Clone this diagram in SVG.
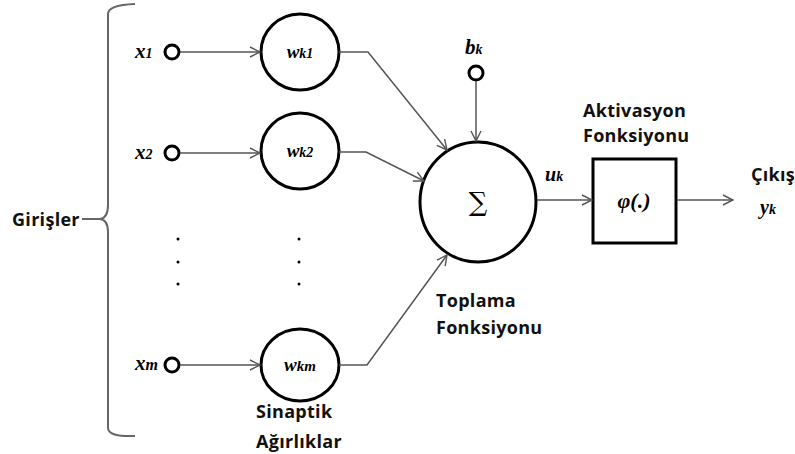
<svg xmlns="http://www.w3.org/2000/svg" width="795" height="454" viewBox="0 0 795 454">
  <defs>
    <marker id="arr" viewBox="0 0 12 12" refX="11" refY="6" markerWidth="12" markerHeight="12" markerUnits="userSpaceOnUse" orient="auto">
      <path d="M1,1 L11,6 L1,11" fill="none" stroke="#555" stroke-width="1.4"/>
    </marker>
  </defs>
  <style>
    .bg { fill: #ffffff; }
    .node { fill: #ffffff; stroke: #000; stroke-width: 3; }
    .port { fill: #ffffff; stroke: #000; stroke-width: 3; }
    .wire { fill: none; stroke: #555; stroke-width: 1.5; marker-end: url(#arr); }
    .brace { fill: none; stroke: #666; stroke-width: 2; }
    .math { font-family: "Liberation Serif", "DejaVu Serif", serif; font-style: italic; font-weight: bold; fill: #000; }
    .lbl { font-family: "Open Sans", "Noto Sans", sans-serif; font-weight: bold; font-size: 18px; letter-spacing: 0.3px; fill: #111; }
    .dot { fill: #000; }
  </style>
  <rect class="bg" x="0" y="0" width="795" height="454"/>

  <!-- input brace -->
  <g id="inputs-brace">
    <path class="brace" d="M135,4 Q108,5 108,14 L108,205 Q108,218 100,219 L82,219 M100,219 Q108,220 108,232 L108,428 Q108,437 135,436"/>
    <text class="lbl" x="12" y="226">Girişler</text>
  </g>

  <!-- input ports -->
  <g id="x1">
    <circle class="port" cx="172" cy="52" r="7"/>
    <text class="math" x="135" y="58" font-size="21">x<tspan font-size="14">1</tspan></text>
  </g>
  <g id="x2">
    <circle class="port" cx="172" cy="153" r="7"/>
    <text class="math" x="135" y="159" font-size="21">x<tspan font-size="14">2</tspan></text>
  </g>
  <g id="xm">
    <circle class="port" cx="172" cy="365" r="7"/>
    <text class="math" x="135" y="370" font-size="21">x<tspan font-size="16">m</tspan></text>
  </g>
  <g id="input-dots">
    <circle class="dot" cx="178" cy="239" r="1.5"/>
    <circle class="dot" cx="178" cy="262" r="1.5"/>
    <circle class="dot" cx="178" cy="284" r="1.5"/>
  </g>

  <!-- synaptic weights -->
  <g id="wk1">
    <ellipse class="node" cx="300" cy="52" rx="39" ry="38"/>
    <text class="math" x="300" y="58" font-size="19" text-anchor="middle">w<tspan font-size="14">k1</tspan></text>
  </g>
  <g id="wk2">
    <ellipse class="node" cx="300" cy="151" rx="39" ry="38"/>
    <text class="math" x="300" y="157" font-size="19" text-anchor="middle">w<tspan font-size="14">k2</tspan></text>
  </g>
  <g id="wkm">
    <ellipse class="node" cx="300" cy="365" rx="39" ry="36"/>
    <text class="math" x="300" y="371" font-size="19" text-anchor="middle">w<tspan font-size="15">km</tspan></text>
    <text class="lbl" x="256" y="418">Sinaptik</text>
    <text class="lbl" x="256" y="448">Ağırlıklar</text>
  </g>
  <g id="weight-dots">
    <circle class="dot" cx="299" cy="239" r="1.5"/>
    <circle class="dot" cx="299" cy="262" r="1.5"/>
    <circle class="dot" cx="299" cy="284" r="1.5"/>
  </g>

  <!-- bias -->
  <g id="bk">
    <circle class="port" cx="476" cy="73" r="7"/>
    <text class="math" x="465" y="54" font-size="21">b<tspan font-size="14">k</tspan></text>
  </g>

  <!-- summing junction -->
  <g id="sum">
    <ellipse class="node" cx="478" cy="202" rx="58" ry="60"/>
    <text x="478" y="211" font-family="'DejaVu Serif', serif" font-size="26" text-anchor="middle" fill="#000">∑</text>
    <text class="lbl" x="436" y="307">Toplama</text>
    <text class="lbl" x="436" y="334">Fonksiyonu</text>
  </g>

  <!-- activation -->
  <g id="activation">
    <rect class="node" x="593" y="159" width="83" height="84"/>
    <text class="math" x="634" y="208" font-size="22" font-weight="normal" text-anchor="middle">φ(.)</text>
    <text class="lbl" x="583" y="117">Aktivasyon</text>
    <text class="lbl" x="583" y="142">Fonksiyonu</text>
  </g>

  <!-- output -->
  <g id="output">
    <text class="lbl" x="751" y="181">Çıkış</text>
    <text class="math" x="760" y="214" font-size="20">y<tspan font-size="14">k</tspan></text>
  </g>

  <!-- connectors -->
  <g id="connectors">
    <path class="wire" d="M180,52 L260,52"/>
    <path class="wire" d="M180,153 L260,153"/>
    <path class="wire" d="M180,365 L260,365"/>
    <path class="wire" d="M339,52 L368,52 L447,150"/>
    <path class="wire" d="M339,152 L366,152 L424,181"/>
    <path class="wire" d="M339,365 L367,365 L447,255"/>
    <path class="wire" d="M476,81 L476,141"/>
    <path class="wire" d="M537,200 L592,200"/>
    <path class="wire" d="M677,200 L733,200"/>
    <text class="math" x="545" y="181" font-size="20">u<tspan font-size="14">k</tspan></text>
  </g>
</svg>
